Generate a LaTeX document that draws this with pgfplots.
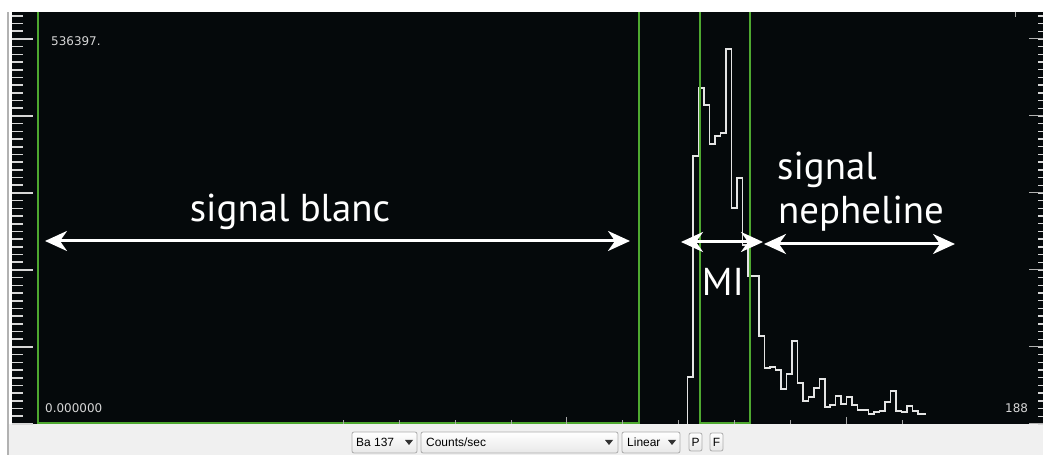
\documentclass[border=0pt]{standalone}
\usepackage{pgfplots}
\pgfplotsset{compat=1.18}
\usepackage{fontspec}
\setmainfont{Liberation Sans}
\newfontfamily\lblfont{PT Sans}
\newfontfamily\numfont{DejaVu Sans}
\usetikzlibrary{arrows.meta}
\definecolor{panel}{HTML}{05090B}
\definecolor{grn}{RGB}{78,168,48}
\definecolor{strip}{HTML}{F0F0F0}
\definecolor{trace}{RGB}{228,228,228}
\definecolor{tickc}{RGB}{215,215,215}

\pgfplotsset{
  panelaxis/.style={
    at={(12bp,31bp)}, anchor=south west,
    width=1031bp, height=412bp, scale only axis,
    xmin=-0.2, xmax=187.8, ymin=0, ymax=574000,
    axis line style={draw=none},
    scaled x ticks=false, scaled y ticks=false,
    xticklabels={}, yticklabels={},
    tick align=inside,
  }
}

\begin{document}
\begin{tikzpicture}[x=1bp,y=1bp]
\fill[white] (0,0) rectangle (1043,455);
\fill[strip] (8,0) rectangle (1043,31);
\draw[gray!60, line width=1.2bp] (8,0) -- (8,443);

% main axis: panel, left ruler, trace
\begin{axis}[panelaxis,
  axis background/.style={fill=panel},
  xtick=\empty,
  ytick={0,107279.4,214558.8,321838.2,429117.6,536397},
  minor ytick={0,10727.94,...,570000},
  ytick pos=left,
  major tick length=21bp, minor tick length=11bp,
  major tick style={tickc, line width=1.2bp},
  minor tick style={tickc, line width=1.6bp},
  clip=false,
]
\addplot[const plot mark left, color=trace, line width=1.5bp] coordinates {
(123,0) (123,65480) (124,373378) (125,468115) (126,444431) (127,390096)
(128,401242) (129,405421) (130,522450) (131,300931) (132,342727)
(133,249383) (134,206194) (135,206194) (136,122602) (137,78019)
(138,79412) (139,75233) (140,48762) (141,69660) (142,115636)
(143,57121) (144,32044) (145,37616) (146,50155) (147,62694)
(148,23684) (149,26471) (150,39010) (151,27864) (152,37616)
(153,26471) (154,19505) (155,19505) (156,13932) (157,16718)
(158,18112) (159,30650) (160,45976) (161,18112) (162,16718)
(163,25078) (164,18112) (165,13932) (166,13932) (166.4,13932)
};
% green selection windows
\draw[grn, line width=1.4bp] (axis cs:4.54,574000) -- (axis cs:4.54,1400);
\draw[grn, line width=1.4bp] (axis cs:114.13,574000) -- (axis cs:114.13,1400);
\draw[grn, line width=2.2bp] (axis cs:4.4,1400) -- (axis cs:114.27,1400);
\draw[grn, line width=1.4bp] (axis cs:125.25,574000) -- (axis cs:125.25,1400);
\draw[grn, line width=1.4bp] (axis cs:134.37,574000) -- (axis cs:134.37,1400);
\draw[grn, line width=2.2bp] (axis cs:125.11,1400) -- (axis cs:134.51,1400);
\end{axis}

% bottom ticks
\begin{axis}[panelaxis,
  ytick=\empty,
  xtick={101.0,152.05},
  minor xtick={60.16,70.37,80.58,90.79,111.21,121.42,131.63,141.84,162.26},
  xtick pos=bottom,
  major tick length=7bp, minor tick length=4bp,
  major tick style={gray!70, line width=1bp},
  minor tick style={gray!70, line width=1bp},
]
\end{axis}

% top tick
\begin{axis}[panelaxis,
  ytick=\empty,
  xtick={182.7},
  xtick pos=top,
  major tick length=5bp,
  major tick style={gray!70, line width=1bp},
]
\end{axis}

% right ruler
\begin{axis}[panelaxis,
  xtick=\empty,
  ytick={0,107279.4,214558.8,321838.2,429117.6,536397},
  minor ytick={0,10727.94,...,570000},
  ytick pos=right,
  major tick length=14bp, minor tick length=5bp,
  major tick style={gray!60, line width=1bp},
  minor tick style={tickc, line width=1.4bp},
]
\end{axis}

% small value labels
\tikzset{numlbl/.style={anchor=base west, font=\numfont\fontsize{12}{14}\selectfont, text=tickc, inner sep=0}}
\node[numlbl] at (51,409) {536397.};
\node[numlbl] at (45,42) {0.000000};
\node[numlbl] at (1005,42) {188};

% annotations
\tikzset{bigarrow/.style={white, line width=3bp,
  {Stealth[length=22bp,width=20bp,inset=7bp]}-{Stealth[length=22bp,width=20bp,inset=7bp]}}}
\draw[bigarrow] (45,214) -- (630,214);
\draw[bigarrow] (681,213) -- (763,213);
\draw[bigarrow] (764,211) -- (955,211);
\tikzset{bigtext/.style={text=white, inner sep=0, font=\lblfont\fontsize{39}{44}\selectfont}}
\node[bigtext, anchor=base] at (290,233) {signal blanc};
\node[bigtext, anchor=base west] at (777,275) {signal};
\node[bigtext, anchor=base west] at (778,231) {nepheline};
\node[bigtext, anchor=base] at (723,159) {MI};

% control widgets
\tikzset{widget/.style={draw=gray!65, top color=white, bottom color=gray!18, rounded corners=2bp, line width=0.8bp},
  wtext/.style={anchor=base west, inner sep=0, font=\fontsize{12}{14}\selectfont, text=black}}
\path[widget] (352,2) rectangle (417,23);
\node[wtext] at (356,8) {Ba 137};
\fill[black!80] (405,15) -- (413,15) -- (409,10) -- cycle;
\path[widget] (421,2) rectangle (618,23);
\node[wtext] at (426,8) {Counts/sec};
\fill[black!80] (605,15) -- (613,15) -- (609,10) -- cycle;
\path[widget] (622,2) rectangle (680,23);
\node[wtext] at (627,8) {Linear};
\fill[black!80] (668,15) -- (676,15) -- (672,10) -- cycle;
\path[widget] (689,4) rectangle (702,22);
\node[anchor=base, inner sep=0, font=\fontsize{12}{14}\selectfont] at (695.5,8) {P};
\path[widget] (710,4) rectangle (723,22);
\node[anchor=base, inner sep=0, font=\fontsize{12}{14}\selectfont] at (716.5,8) {F};

\pgfresetboundingbox
\useasboundingbox (0,0) rectangle (1043,455);
\end{tikzpicture}
\end{document}
